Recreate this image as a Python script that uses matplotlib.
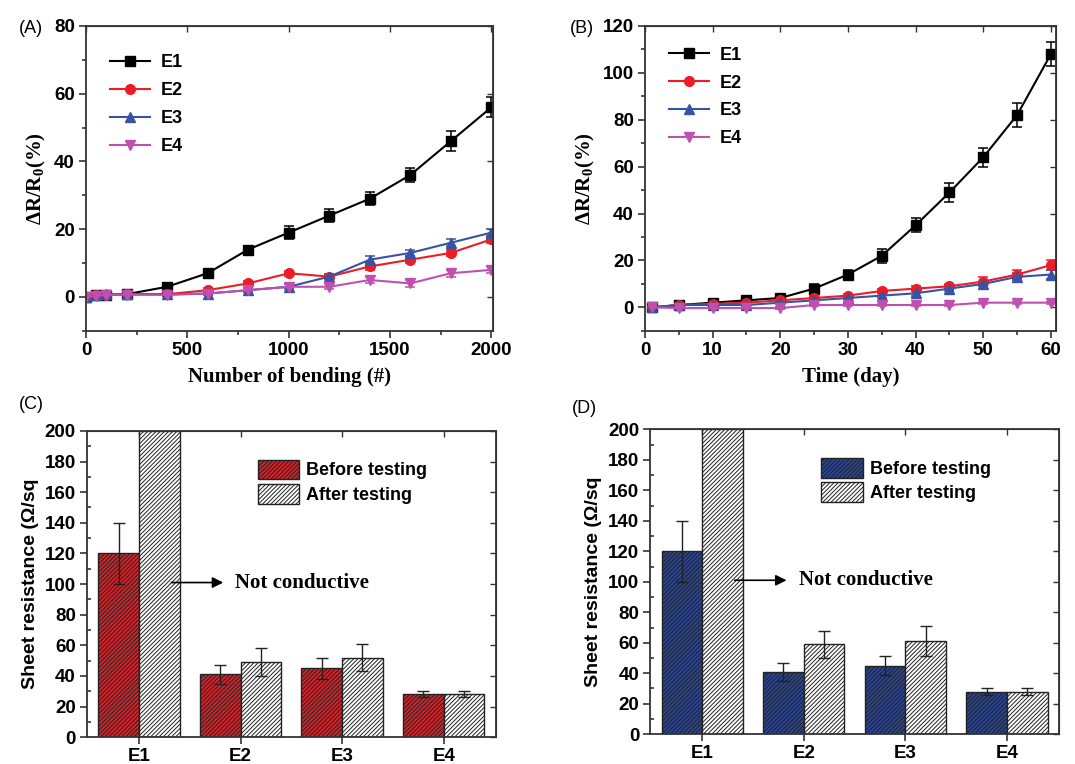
import numpy as np
import matplotlib
matplotlib.use("Agg")
import matplotlib.pyplot as plt
from matplotlib.ticker import MultipleLocator

plt.rcParams['font.family'] = ['Liberation Sans', 'DejaVu Sans']
plt.rcParams['font.weight'] = 'bold'
plt.rcParams['mathtext.fontset'] = 'custom'
plt.rcParams['mathtext.rm'] = 'Liberation Serif:bold'
plt.rcParams['mathtext.bf'] = 'Liberation Serif:bold'
plt.rcParams['hatch.linewidth'] = 0.7

# ---- data: panel A (bending) ----
bend_x = [0, 50, 100, 200, 400, 600, 800, 1000, 1200, 1400, 1600, 1800, 2000]
bend_e1 = [0, 0.5, 0.7, 0.8, 3, 7, 14, 19, 24, 29, 36, 46, 56]
bend_e1_err = [0.3, 0.4, 0.4, 0.4, 0.5, 0.6, 0.8, 2, 2, 2, 2, 3, 3]
bend_e2 = [0, 0.5, 0.7, 0.8, 0.8, 2, 4, 7, 6, 9, 11, 13, 17]
bend_e2_err = [0.3, 0.3, 0.3, 0.3, 0.4, 0.5, 0.6, 0.8, 0.8, 1, 1, 1, 1]
bend_e3 = [0, 0.6, 0.8, 0.8, 0.8, 1, 2, 3, 6, 11, 13, 16, 19]
bend_e3_err = [0.3, 0.3, 0.3, 0.3, 0.4, 0.5, 0.6, 0.8, 0.8, 1, 1, 1, 1]
bend_e4 = [0, 0.3, 0.6, 0.7, 0.6, 1, 2, 3, 3, 5, 4, 7, 8]
bend_e4_err = [0.3, 0.3, 0.3, 0.3, 0.4, 0.5, 0.6, 0.8, 0.8, 1, 1, 1, 1]

# ---- data: panel B (time) ----
day_x = [1, 5, 10, 15, 20, 25, 30, 35, 40, 45, 50, 55, 60]
day_e1 = [0, 1, 2, 3, 4, 8, 14, 22, 35, 49, 64, 82, 108]
day_e1_err = [0.5, 0.5, 0.5, 0.5, 1, 2, 2, 3, 3, 4, 4, 5, 5]
day_e2 = [0, 1, 1.5, 2, 3, 4, 5, 7, 8, 9, 11, 14, 18]
day_e2_err = [0.5, 0.5, 0.5, 0.5, 0.5, 0.8, 0.8, 1, 1, 1, 2, 2, 2]
day_e3 = [0, 1, 1, 1, 2, 3, 4, 5, 6, 8, 10, 13, 14]
day_e3_err = [0.5, 0.5, 0.5, 0.5, 0.5, 0.8, 0.8, 1, 1, 1, 1, 1.5, 2]
day_e4 = [0, -0.3, -0.3, -0.3, -0.3, 1, 1, 1, 1, 1, 2, 2, 2]
day_e4_err = [0.3, 0.3, 0.3, 0.3, 0.3, 0.4, 0.4, 0.4, 0.4, 0.4, 0.5, 0.5, 0.5]

# ---- data: panels C and D (sheet resistance) ----
samples = ['E1', 'E2', 'E3', 'E4']
c_before = [120, 41, 45, 28]
c_before_err = [20, 6, 7, 2]
c_after = [200, 49, 52, 28]
c_after_err = [0, 9, 9, 2]
d_before = [120, 41, 45, 28]
d_before_err = [20, 6, 6, 2]
d_after = [200, 59, 61, 28]
d_after_err = [0, 9, 10, 2]

series_style = [
    ('E1', 's', '#000000'),
    ('E2', 'o', '#ee1c25'),
    ('E3', '^', '#3953a4'),
    ('E4', 'v', '#c050b0'),
]

spine_col = '#333333'


def style_axes(ax):
    for s in ax.spines.values():
        s.set_color(spine_col)
        s.set_linewidth(1.3)
    ax.tick_params(which='both', direction='out', color=spine_col, width=1.2,
                   top=False, right=False, labelsize=13.5)
    ax.tick_params(which='major', length=5, pad=3)
    ax.tick_params(which='minor', length=3)
    # mirrored inward ticks on top / right
    sx = ax.secondary_xaxis('top')
    sx.set_xticks(ax.get_xticks())
    sx.tick_params(which='both', direction='in', length=4, color=spine_col,
                   labeltop=False, width=1.0)
    sy = ax.secondary_yaxis('right')
    sy.set_yticks(ax.get_yticks())
    sy.tick_params(which='both', direction='in', length=4, color=spine_col,
                   labelright=False, width=1.0)
    sx.spines['top'].set_color(spine_col)
    sy.spines['right'].set_color(spine_col)


def line_panel(ax, x, ys, errs, xlim, ylim, xmaj, xmin, ymaj, ymin, xlabel, leg_y):
    for (name, mk, col), y, e in zip(series_style, ys, errs):
        ax.errorbar(x, y, yerr=e, color=col, marker=mk, markersize=7,
                    linewidth=1.5, capsize=3.5, elinewidth=1.1, capthick=1.1)
        ax.plot([], [], color=col, marker=mk, markersize=7, linewidth=1.5, label=name)
    ax.set_xlim(*xlim)
    ax.set_ylim(*ylim)
    ax.xaxis.set_major_locator(MultipleLocator(xmaj))
    ax.xaxis.set_minor_locator(MultipleLocator(xmin))
    ax.yaxis.set_major_locator(MultipleLocator(ymaj))
    ax.yaxis.set_minor_locator(MultipleLocator(ymin))
    ax.set_xlabel(xlabel, fontsize=15, fontweight='bold',
                  family='Liberation Serif', labelpad=6)
    ax.set_ylabel(r'ΔR/R$_{\mathbf{0}}$(%)', fontsize=15, fontweight='bold',
                  family='Liberation Serif', labelpad=4)
    ax.legend(loc='upper left', bbox_to_anchor=(0.02, leg_y), frameon=False,
              prop=dict(size=13, weight='bold'), handlelength=2.2,
              labelspacing=0.6, handletextpad=0.6)
    style_axes(ax)


def bar_panel(ax, before, before_err, after, after_err, color):
    pos = np.arange(1, len(samples) + 1)
    w = 0.4
    ax.bar(pos - w / 2, before, width=w, color=color, edgecolor='#222222',
           hatch='////////', linewidth=1.0, label='Before testing', zorder=2)
    ax.bar(pos + w / 2, after, width=w, color='white', edgecolor='#222222',
           hatch='////////', linewidth=1.0, label='After testing', zorder=2)
    ax.errorbar(pos - w / 2, before, yerr=before_err, fmt='none', ecolor='#222222',
                capsize=4, elinewidth=1.0, capthick=1.0, zorder=3)
    ea = np.array(after_err, dtype=float)
    keep = ea > 0
    ax.errorbar((pos + w / 2)[keep], np.array(after)[keep], yerr=ea[keep], fmt='none',
                ecolor='#222222', capsize=4, elinewidth=1.0, capthick=1.0, zorder=3)
    ax.set_xlim(0.49, 4.51)
    ax.set_ylim(0, 200)
    ax.set_xticks(pos)
    ax.set_xticklabels(samples)
    ax.yaxis.set_major_locator(MultipleLocator(20))
    ax.yaxis.set_minor_locator(MultipleLocator(10))
    ax.set_ylabel('Sheet resistance (Ω/sq', fontsize=14, fontweight='bold', labelpad=4)
    ax.annotate('', xy=(1.83, 101), xytext=(1.32, 101),
                arrowprops=dict(arrowstyle='-|>', color='black', lw=1.2,
                                mutation_scale=16, shrinkA=0, shrinkB=0))
    ax.text(1.95, 101, 'Not conductive', fontsize=15, fontweight='bold',
            family='Liberation Serif', va='center', ha='left')
    ax.legend(loc='upper left', bbox_to_anchor=(0.4, 0.93), frameon=False,
              prop=dict(size=13, weight='bold'), handlelength=2.3, handleheight=1.3,
              labelspacing=0.25, handletextpad=0.4, borderaxespad=0)
    style_axes(ax)
    ax.tick_params(which='minor', direction='in')


fig = plt.figure(figsize=(10.75, 7.64), dpi=100)
ax_a = fig.add_axes([0.080, 0.567, 0.379, 0.399])
ax_b = fig.add_axes([0.600, 0.567, 0.382, 0.399])
ax_c = fig.add_axes([0.081, 0.035, 0.380, 0.401])
ax_d = fig.add_axes([0.605, 0.039, 0.380, 0.399])

line_panel(ax_a, bend_x, [bend_e1, bend_e2, bend_e3, bend_e4],
           [bend_e1_err, bend_e2_err, bend_e3_err, bend_e4_err],
           (0, 2010), (-10, 80), 500, 250, 20, 10, 'Number of bending (#)', 0.96)
line_panel(ax_b, day_x, [day_e1, day_e2, day_e3, day_e4],
           [day_e1_err, day_e2_err, day_e3_err, day_e4_err],
           (0, 60.7), (-10, 120), 10, 5, 20, 10, 'Time (day)', 0.985)
bar_panel(ax_c, c_before, c_before_err, c_after, c_after_err, '#d8222a')
bar_panel(ax_d, d_before, d_before_err, d_after, d_after_err, '#2a4594')

for lab, (x, y) in zip(['(A)', '(B)', '(C)', '(D)'],
                       [(0.018, 0.963), (0.530, 0.963), (0.018, 0.47), (0.532, 0.465)]):
    fig.text(x, y, lab, fontsize=13, fontweight='normal', ha='left', va='center')

fig.savefig('out.png', dpi=100)
